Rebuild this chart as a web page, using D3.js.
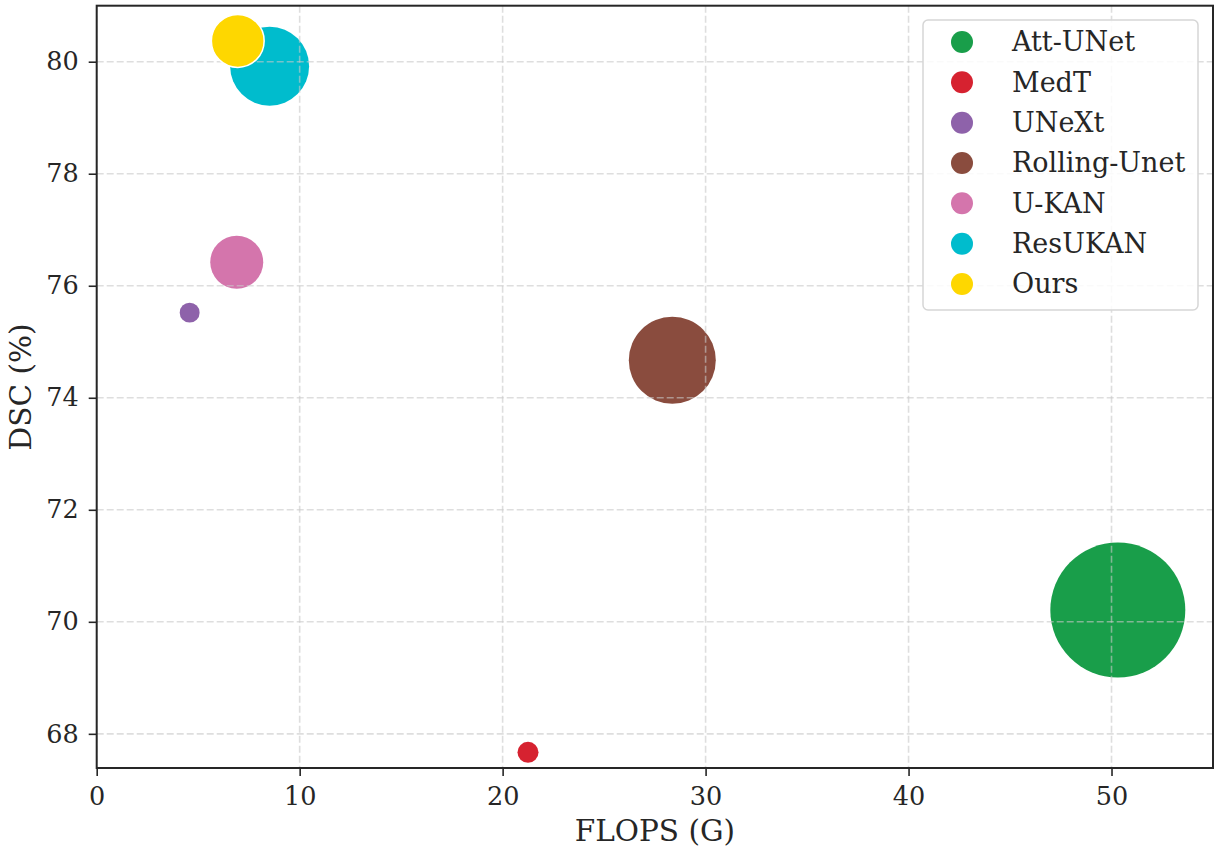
<!DOCTYPE html>
<html>
<head>
<meta charset="utf-8">
<script src="https://cdn.jsdelivr.net/npm/d3@7"></script>
<style>
  html, body { margin: 0; padding: 0; background: #fff; }
  svg { display: block; font-family: "DejaVu Serif", serif; }
</style>
</head>
<body>
<svg id="chart" width="1214" height="850"></svg>
<script>
// Bubble chart: segmentation accuracy vs. compute, bubble area ~ parameters
const models = ["Att-UNet", "MedT", "UNeXt", "Rolling-Unet", "U-KAN", "ResUKAN", "Ours"];
const flops  = [50.31, 21.25, 4.58, 28.36, 6.90, 8.52, 6.95];   // G
const dsc    = [70.21, 67.67, 75.52, 74.67, 76.42, 79.92, 80.37]; // %
const params = [41.2, 1.0, 0.9, 17.1, 6.35, 14.1, 6.3];           // bubble size
const colors = ["#199e4a", "#d62230", "#8e62aa", "#8a4c3e", "#d475ac", "#00bccd", "#fed700"];
const xTicks = [0, 10, 20, 30, 40, 50];
const yTicks = [68, 70, 72, 74, 76, 78, 80];

const svg = d3.select("#chart");
const m = { left: 96.7, right: 1213, top: 5.7, bottom: 768 };

const x = d3.scaleLinear().domain([0, 55]).range([m.left, m.right]);
const y = d3.scaleLinear().domain([67.39, 81.0]).range([m.bottom, m.top]);
const r = d3.scaleSqrt().domain([0, 41.2]).range([0, 67.5]);

const data = models.map((name, i) => ({
  name, x: flops[i], y: dsc[i], p: params[i], c: colors[i], ours: name === "Ours"
}));

const clipId = "plotclip";
svg.append("defs").append("clipPath").attr("id", clipId)
  .append("rect").attr("x", m.left).attr("y", m.top)
  .attr("width", m.right - m.left).attr("height", m.bottom - m.top);

const plot = svg.append("g").attr("clip-path", `url(#${clipId})`);

// Bubbles beneath the grid
plot.append("g").selectAll("circle")
  .data(data.filter(d => !d.ours))
  .join("circle")
  .attr("cx", d => x(d.x))
  .attr("cy", d => y(d.y))
  .attr("r", d => r(d.p))
  .attr("fill", d => d.c);

// Dashed grid
const grid = plot.append("g")
  .attr("stroke", "#c8c8c8")
  .attr("stroke-opacity", 0.6)
  .attr("stroke-width", 1.6)
  .attr("stroke-dasharray", "7,3");
grid.selectAll("line.v").data(xTicks).join("line")
  .attr("class", "v")
  .attr("x1", d => x(d)).attr("x2", d => x(d))
  .attr("y1", m.top).attr("y2", m.bottom);
grid.selectAll("line.h").data(yTicks).join("line")
  .attr("class", "h")
  .attr("x1", m.left).attr("x2", m.right)
  .attr("y1", d => y(d)).attr("y2", d => y(d));

// Our model on top, white outline
plot.append("g").selectAll("circle")
  .data(data.filter(d => d.ours))
  .join("circle")
  .attr("cx", d => x(d.x))
  .attr("cy", d => y(d.y))
  .attr("r", d => r(d.p))
  .attr("fill", d => d.c)
  .attr("stroke", "#ffffff")
  .attr("stroke-width", 1.5);

// Axes
const xAxis = d3.axisBottom(x).tickValues(xTicks).tickSize(8).tickPadding(11).tickFormat(d3.format("d"));
const yAxis = d3.axisLeft(y).tickValues(yTicks).tickSize(8).tickPadding(10).tickFormat(d3.format("d"));

const gx = svg.append("g").attr("transform", `translate(0,${m.bottom})`).call(xAxis);
const gy = svg.append("g").attr("transform", `translate(${m.left},0)`).call(yAxis);
[gx, gy].forEach(g => {
  g.select(".domain").remove();
  g.selectAll(".tick line").attr("stroke", "#262626").attr("stroke-width", 1.6);
  g.selectAll(".tick text").attr("fill", "#262626")
    .style("font-family", "'DejaVu Serif', serif").style("font-size", "25.5px");
});

// Frame
svg.append("rect")
  .attr("x", m.left).attr("y", m.top)
  .attr("width", m.right - m.left).attr("height", m.bottom - m.top)
  .attr("fill", "none").attr("stroke", "#262626").attr("stroke-width", 2);

// Axis titles
svg.append("text")
  .attr("x", (m.left + m.right) / 2).attr("y", 841)
  .attr("text-anchor", "middle")
  .attr("fill", "#262626").style("font-size", "29.5px")
  .text("FLOPS (G)");
svg.append("text")
  .attr("transform", `translate(31,${387}) rotate(-90)`)
  .attr("text-anchor", "middle")
  .attr("fill", "#262626").style("font-size", "29.5px")
  .text("DSC (%)");

// Legend
const lg = svg.append("g");
lg.append("rect")
  .attr("x", 923).attr("y", 20).attr("width", 275).attr("height", 290)
  .attr("rx", 5).attr("ry", 5)
  .attr("fill", "#ffffff").attr("fill-opacity", 0.85)
  .attr("stroke", "#d6d6d6").attr("stroke-width", 1.5);
const rowY = d3.scalePoint().domain(models).range([42, 284]);
const items = lg.selectAll("g.item").data(data).join("g").attr("class", "item")
  .attr("transform", d => `translate(0,${rowY(d.name)})`);
items.append("circle").attr("cx", 962).attr("cy", 0).attr("r", 11).attr("fill", d => d.c);
items.append("text").attr("x", 1012).attr("y", 0).attr("dy", "0.35em")
  .attr("fill", "#262626").style("font-size", "27px")
  .text(d => d.name);
</script>
</body>
</html>
